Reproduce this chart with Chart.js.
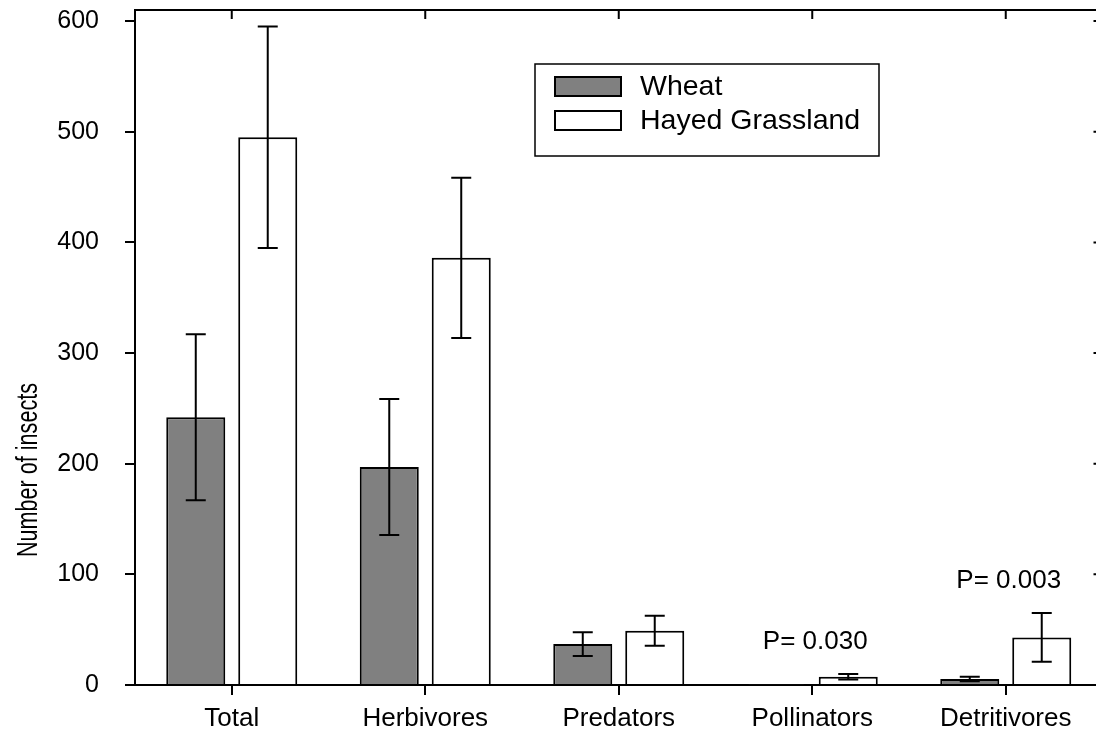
<!DOCTYPE html>
<html>
<head>
<meta charset="utf-8">
<script src="https://cdn.jsdelivr.net/npm/chart.js@4/dist/chart.umd.min.js"></script>
<style>
  html, body { margin: 0; padding: 0; background: #fff; overflow: hidden; }
  canvas { display: block; }
</style>
</head>
<body>
<canvas id="chart" width="1104" height="740"></canvas>
<script>
// Insect counts by functional group: wheat fields vs hayed grassland (mean ± SE)
const categories   = ['Total', 'Herbivores', 'Predators', 'Pollinators', 'Detritivores'];
const wheatMeans   = [242, 197, 37, 0.6, 5.4];
const wheatErrors  = [75, 61.5, 10.7, 0, 2];
const grassMeans   = [495, 386, 49, 7.5, 43];
const grassErrors  = [100, 72.5, 13.5, 2.5, 22];
const pLabels      = ['', '', '', 'P= 0.030', 'P= 0.003'];
const yTickValues  = [0, 100, 200, 300, 400, 500, 600];
const yMax         = 610;
const yTitle       = 'Number of insects';

const FONT = '"Liberation Sans", Arial, Helvetica, sans-serif';
Chart.defaults.font.family = FONT;
Chart.defaults.color = '#000';

// Whiskers for each bar, drawn through the y scale
const errorBars = {
  id: 'errorBars',
  afterDatasetsDraw(chart) {
    const { ctx, scales: { y } } = chart;
    const errs = [wheatErrors, grassErrors];
    ctx.save();
    ctx.strokeStyle = '#000';
    ctx.lineWidth = 2;
    chart.data.datasets.forEach((ds, i) => {
      chart.getDatasetMeta(i).data.forEach((bar, j) => {
        const e = errs[i][j];
        if (!e) return;
        const v = ds.data[j];
        const yt = y.getPixelForValue(v + e);
        const yb = y.getPixelForValue(v - e);
        const x = bar.x;
        ctx.beginPath();
        ctx.moveTo(x, yt); ctx.lineTo(x, yb);
        ctx.moveTo(x - 10, yt); ctx.lineTo(x + 10, yt);
        ctx.moveTo(x - 10, yb); ctx.lineTo(x + 10, yb);
        ctx.stroke();
      });
    });
    ctx.restore();
  }
};

// Closed frame with inward ticks on the top and right edges
const frame = {
  id: 'frame',
  afterDraw(chart) {
    const { ctx, chartArea: a, scales: { x, y } } = chart;
    ctx.save();
    ctx.strokeStyle = '#000';
    ctx.lineWidth = 2;
    ctx.beginPath();
    ctx.moveTo(a.left - 1, a.top);
    ctx.lineTo(a.right, a.top);
    ctx.lineTo(a.right, a.bottom);
    categories.forEach((_, i) => {
      const px = x.getPixelForValue(i);
      ctx.moveTo(px, a.top); ctx.lineTo(px, a.top + 9);
    });
    y.ticks.forEach(t => {
      const py = y.getPixelForValue(t.value);
      ctx.moveTo(a.right, py); ctx.lineTo(a.right - 9, py);
    });
    ctx.stroke();
    ctx.restore();
  }
};

// Significance labels above the grassland whiskers
const pText = {
  id: 'pText',
  afterDatasetsDraw(chart) {
    const { ctx, scales: { x, y } } = chart;
    ctx.save();
    ctx.fillStyle = '#000';
    ctx.font = '26px ' + FONT;
    ctx.textAlign = 'center';
    ctx.textBaseline = 'middle';
    pLabels.forEach((txt, i) => {
      if (!txt) return;
      const top = y.getPixelForValue(grassMeans[i] + grassErrors[i]);
      ctx.fillText(txt, x.getPixelForValue(i) + 3, top - 32);
    });
    ctx.restore();
  }
};

// Boxed legend inside the plot
const boxLegend = {
  id: 'boxLegend',
  afterDraw(chart) {
    const { ctx } = chart;
    const box = { l: 535, t: 64, r: 879, b: 156 };
    ctx.save();
    ctx.fillStyle = '#fff';
    ctx.fillRect(box.l, box.t, box.r - box.l, box.b - box.t);
    ctx.strokeStyle = '#000';
    ctx.lineWidth = 1.5;
    ctx.strokeRect(box.l, box.t, box.r - box.l, box.b - box.t);
    ctx.font = '28.5px ' + FONT;
    ctx.textBaseline = 'middle';
    chart.data.datasets.forEach((ds, i) => {
      const cy = 86.5 + i * 34;
      ctx.fillStyle = ds.backgroundColor;
      ctx.fillRect(555, cy - 9.5, 66, 19);
      ctx.lineWidth = 2;
      ctx.strokeStyle = '#000';
      ctx.strokeRect(555, cy - 9.5, 66, 19);
      ctx.fillStyle = '#000';
      ctx.fillText(ds.label, 640, cy + 1);
    });
    ctx.restore();
  }
};

// Rotated, condensed y-axis title
const yAxisTitle = {
  id: 'yAxisTitle',
  afterDraw(chart) {
    const { ctx } = chart;
    ctx.save();
    ctx.translate(29, 470);
    ctx.rotate(-Math.PI / 2);
    ctx.scale(0.72, 1);
    ctx.font = '30px ' + FONT;
    ctx.fillStyle = '#000';
    ctx.textAlign = 'center';
    ctx.textBaseline = 'middle';
    ctx.fillText(yTitle, 0, 0);
    ctx.restore();
  }
};

new Chart(document.getElementById('chart'), {
  type: 'bar',
  data: {
    labels: categories,
    datasets: [
      { label: 'Wheat', data: wheatMeans, backgroundColor: '#808080', borderColor: '#000', borderWidth: 2 },
      { label: 'Hayed Grassland', data: grassMeans, backgroundColor: '#ffffff', borderColor: '#000', borderWidth: 2 }
    ]
  },
  options: {
    responsive: false,
    animation: false,
    devicePixelRatio: 1,
    layout: { padding: { top: 10, right: 1.5, left: 0, bottom: 0 } },
    datasets: { bar: { categoryPercentage: 0.744, barPercentage: 0.82 } },
    plugins: { legend: { display: false }, tooltip: { enabled: false } },
    scales: {
      x: {
        grid: { offset: false, drawOnChartArea: false, tickLength: 10, color: '#000', lineWidth: 2 },
        border: { color: '#000', width: 2 },
        ticks: { font: { size: 26 }, color: '#000', padding: 8, maxRotation: 0 },
        afterFit(s) { s.height = 55; s.paddingLeft = 0; s.paddingRight = 0; }
      },
      y: {
        min: 0,
        max: yMax,
        grid: { drawOnChartArea: false, tickLength: 10, color: '#000', lineWidth: 2 },
        border: { color: '#000', width: 2 },
        ticks: { font: { size: 25 }, color: '#000', padding: 26 },
        afterBuildTicks(s) { s.ticks = yTickValues.map(v => ({ value: v })); },
        afterFit(s) { s.width = 135; s.paddingTop = 0; s.paddingBottom = 0; }
      }
    }
  },
  plugins: [errorBars, pText, frame, boxLegend, yAxisTitle]
});
</script>
</body>
</html>
